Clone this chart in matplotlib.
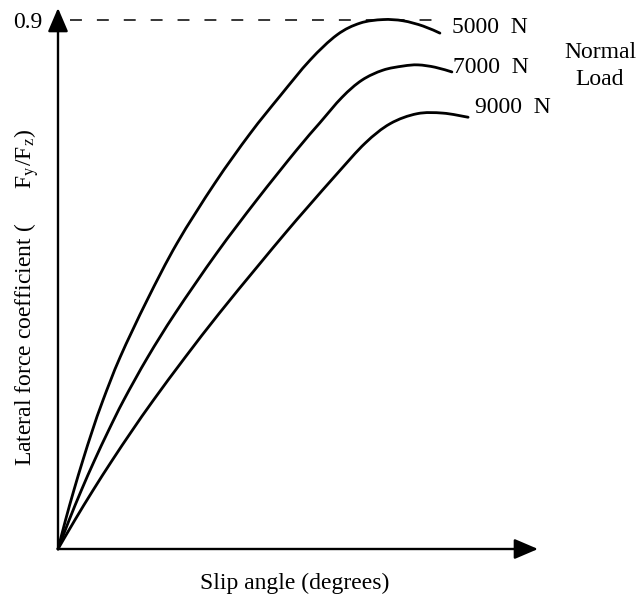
import matplotlib
matplotlib.use("Agg")
import matplotlib.pyplot as plt
from matplotlib.path import Path
from matplotlib.patches import PathPatch

plt.rcParams["font.family"] = ["Liberation Serif", "DejaVu Serif"]
plt.rcParams["mathtext.fontset"] = "stix"

# Lateral force coefficient vs slip angle for three normal loads
slip_5000 = [0, 0.25, 0.53, 0.83, 1.15, 1.50, 2.07, 2.97, 3.97, 5.23, 6.40, 7.40,
             8.40, 9.30, 10.07, 10.83, 11.50, 12.17, 12.73]
mu_5000 = [0, 0.049, 0.100, 0.151, 0.202, 0.253, 0.326, 0.423, 0.520, 0.622, 0.706, 0.770,
           0.831, 0.874, 0.894, 0.900, 0.898, 0.889, 0.877]

slip_7000 = [0, 0.37, 0.78, 1.22, 1.69, 2.19, 2.99, 3.91, 5.29, 6.62, 7.95, 8.72,
             9.47, 10.13, 10.83, 11.50, 12.00, 12.57, 13.13]
mu_7000 = [0, 0.049, 0.100, 0.151, 0.202, 0.253, 0.326, 0.401, 0.503, 0.593, 0.678, 0.724,
           0.768, 0.797, 0.814, 0.821, 0.823, 0.819, 0.811]

slip_9000 = [0, 0.56, 1.17, 1.81, 2.48, 3.18, 4.24, 5.38, 6.63, 7.61, 8.32, 9.32,
             10.24, 11.07, 11.97, 12.83, 13.67]
mu_9000 = [0, 0.049, 0.100, 0.151, 0.202, 0.253, 0.326, 0.401, 0.479, 0.539, 0.581, 0.639,
           0.690, 0.723, 0.740, 0.741, 0.734]

load_labels = ["5000  N", "7000  N", "9000  N"]
label_pos = [(13.13, 0.886), (13.17, 0.818), (13.90, 0.750)]
peak_value = 0.9


def smooth_path(xs, ys):
    """Catmull-Rom style cubic Bezier path through the given points."""
    pts = list(zip(xs, ys))
    n = len(pts)
    verts = [pts[0]]
    codes = [Path.MOVETO]
    for i in range(n - 1):
        p0 = pts[max(i - 1, 0)]
        p1 = pts[i]
        p2 = pts[i + 1]
        p3 = pts[min(i + 2, n - 1)]
        c1 = (p1[0] + (p2[0] - p0[0]) / 6, p1[1] + (p2[1] - p0[1]) / 6)
        c2 = (p2[0] - (p3[0] - p1[0]) / 6, p2[1] - (p3[1] - p1[1]) / 6)
        verts += [c1, c2, p2]
        codes += [Path.CURVE4] * 3
    return Path(verts, codes)


W, H = 641, 605
fig = plt.figure(figsize=(W / 100, H / 100), dpi=100)
# axes frame from origin (58, 549) to arrow tips (538, 8) in pixels
ax = fig.add_axes([58 / W, (H - 549) / H, 480 / W, 541 / H])
ax.set_xlim(0, 16)
ax.set_ylim(0, 0.9197)
ax.set_facecolor("none")
for s in ax.spines.values():
    s.set_visible(False)
ax.set_xticks([])
ax.set_yticks([peak_value])
ax.set_yticklabels(["0.9"], fontsize=17)
ax.tick_params(axis="y", length=0, pad=11)

# axes with arrow heads
arrow = dict(arrowstyle="-|>,head_length=1.45,head_width=0.62", mutation_scale=10,
             color="black", lw=1.7, shrinkA=0, shrinkB=0)
ax.annotate("", xy=(16, 0), xytext=(0, 0), arrowprops=arrow, annotation_clip=False)
ax.annotate("", xy=(0, 0.9197), xytext=(0, 0), arrowprops=arrow, annotation_clip=False)

# peak reference line
ax.plot([0.4, 12.83], [peak_value, peak_value], color="black", lw=1.1,
        dashes=(7.8, 9.8), clip_on=False)

for xs, ys in [(slip_5000, mu_5000), (slip_7000, mu_7000), (slip_9000, mu_9000)]:
    ax.add_patch(PathPatch(smooth_path(xs, ys), facecolor="none", edgecolor="black",
                           lw=2.0, capstyle="round", joinstyle="round", clip_on=False))

for lab, (lx, ly) in zip(load_labels, label_pos):
    ax.text(lx, ly, lab, fontsize=17, ha="left", va="center")

fig.text(600 / W, 1 - 66 / H, "Normal\nLoad", fontsize=17, ha="center", va="center",
         multialignment="center", linespacing=1.35)

fig.text(295 / W, 1 - 583 / H, "Slip angle (degrees)", fontsize=17, ha="center", va="center")
fig.text(27 / W, 1 - 297 / H,
         r"Lateral force coefficient (      F$_\mathrm{y}$/F$_\mathrm{z}$)",
         fontsize=17, rotation=90, ha="center", va="center")

fig.savefig("out.png", dpi=100)
